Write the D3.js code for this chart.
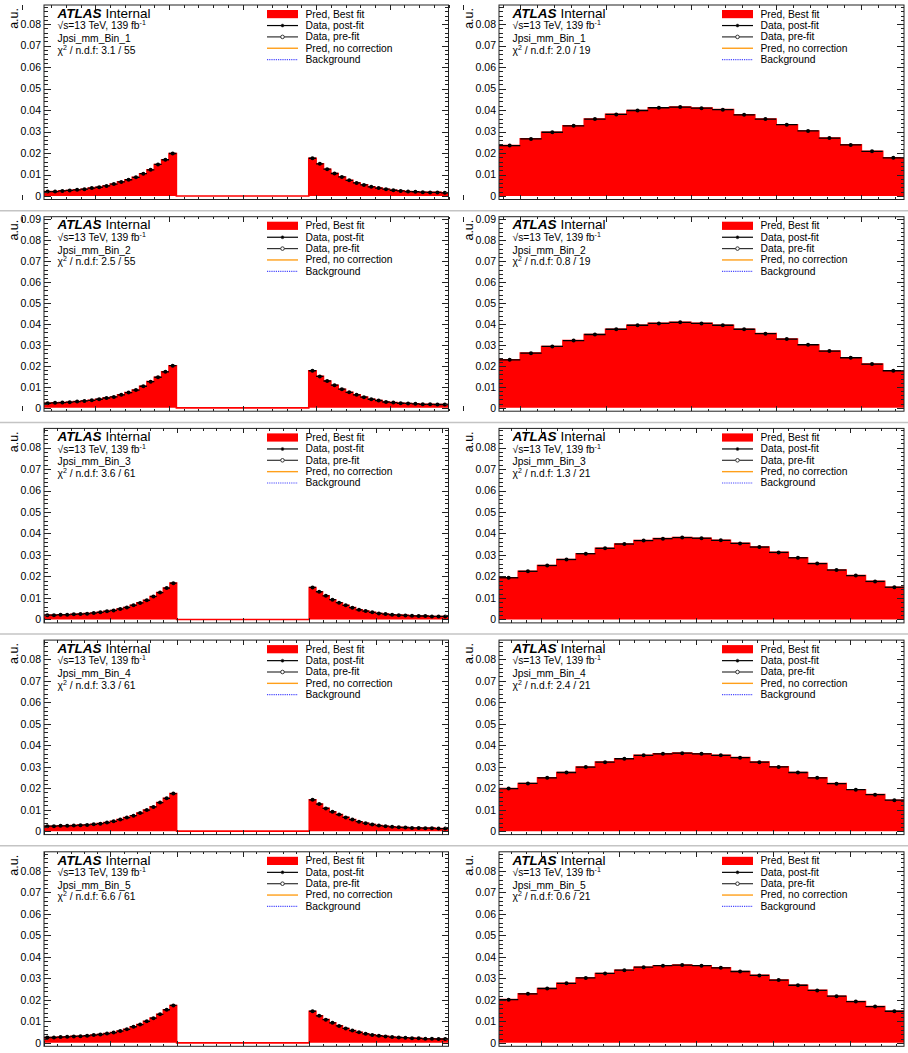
<!DOCTYPE html>
<html>
<head>
<meta charset="utf-8">
<script src="https://cdn.jsdelivr.net/npm/d3@7"></script>
<style>
  html, body { margin: 0; padding: 0; background: #fff; }
  svg text { font-family: "Liberation Sans", Arial, Helvetica, sans-serif; fill: #000; }
</style>
</head>
<body>
<svg id="canvas" width="908" height="1053"></svg>
<script>
// ---- per-row labels ----
const regionNames = ["Jpsi_mm_Bin_1", "Jpsi_mm_Bin_2", "Jpsi_mm_Bin_3", "Jpsi_mm_Bin_4", "Jpsi_mm_Bin_5"];
const chi2Mass  = ["3.1 / 55", "2.5 / 55", "3.6 / 61", "3.3 / 61", "6.6 / 61"];
const chi2Angle = ["2.0 / 19", "0.8 / 19", "1.3 / 21", "2.4 / 21", "0.6 / 21"];
const legendLabels = ["Pred, Best fit", "Data, post-fit", "Data, pre-fit", "Pred, no correction", "Background"];

// ---- y axis ----
const yLow = -0.0016;
const yHigh = [0.0889, 0.0912, 0.0889, 0.0889, 0.0889];
const yMajorTicks = [0, 0.01, 0.02, 0.03, 0.04, 0.05, 0.06, 0.07, 0.08, 0.09];

// ---- x axes (no labels drawn) ----
const massRange  = [[2.66, 3.76], [2.66, 3.76], [2.60, 3.82], [2.60, 3.82], [2.60, 3.82]];
const massMajorTicks = [2.6, 2.8, 3.0, 3.2, 3.4, 3.6, 3.8];
const angleRange = [[-0.25, 4.5], [-0.25, 4.5], [-0.55, 4.7], [-0.55, 4.7], [-0.55, 4.7]];
const angleMajorTicks = [0, 1, 2, 3, 4];

// ---- mass distributions: lower sideband, blinded window, upper sideband ----
const lowSideband = [
  [0.0021, 0.0021, 0.0024, 0.0026, 0.0029, 0.0032, 0.0037, 0.0041, 0.0047, 0.0056, 0.0066, 0.0076, 0.0087, 0.0104, 0.0122, 0.0147, 0.0169, 0.0198],
  [0.0022, 0.0024, 0.0025, 0.0027, 0.0030, 0.0033, 0.0036, 0.0041, 0.0047, 0.0052, 0.0062, 0.0073, 0.0085, 0.0103, 0.0125, 0.0146, 0.0172, 0.0201],
  [0.0020, 0.0020, 0.0022, 0.0022, 0.0024, 0.0025, 0.0027, 0.0030, 0.0033, 0.0038, 0.0042, 0.0049, 0.0056, 0.0066, 0.0077, 0.0089, 0.0107, 0.0125, 0.0146, 0.0169],
  [0.0023, 0.0023, 0.0025, 0.0025, 0.0026, 0.0028, 0.0029, 0.0032, 0.0035, 0.0040, 0.0046, 0.0054, 0.0063, 0.0072, 0.0084, 0.0098, 0.0113, 0.0133, 0.0153, 0.0175],
  [0.0025, 0.0025, 0.0027, 0.0028, 0.0030, 0.0031, 0.0033, 0.0036, 0.0039, 0.0043, 0.0048, 0.0055, 0.0063, 0.0075, 0.0085, 0.0100, 0.0115, 0.0133, 0.0154, 0.0174]
];
const signalWindowBins = [18, 18, 20, 20, 20];
const highSideband = [
  [0.0176, 0.0150, 0.0125, 0.0105, 0.0089, 0.0073, 0.0061, 0.0052, 0.0043, 0.0037, 0.0032, 0.0027, 0.0024, 0.0021, 0.0020, 0.0018, 0.0017, 0.0017, 0.0015],
  [0.0177, 0.0150, 0.0128, 0.0108, 0.0089, 0.0074, 0.0062, 0.0051, 0.0041, 0.0035, 0.0028, 0.0025, 0.0022, 0.0021, 0.0019, 0.0017, 0.0017, 0.0016, 0.0016],
  [0.0149, 0.0129, 0.0110, 0.0092, 0.0078, 0.0066, 0.0055, 0.0045, 0.0039, 0.0033, 0.0028, 0.0025, 0.0022, 0.0020, 0.0019, 0.0017, 0.0016, 0.0016, 0.0014, 0.0014, 0.0014],
  [0.0146, 0.0126, 0.0106, 0.0090, 0.0077, 0.0064, 0.0054, 0.0044, 0.0037, 0.0031, 0.0026, 0.0023, 0.0020, 0.0018, 0.0017, 0.0015, 0.0015, 0.0014, 0.0014, 0.0012, 0.0012],
  [0.0147, 0.0126, 0.0108, 0.0093, 0.0079, 0.0067, 0.0057, 0.0049, 0.0042, 0.0037, 0.0033, 0.0030, 0.0027, 0.0025, 0.0024, 0.0022, 0.0021, 0.0019, 0.0019, 0.0018, 0.0018]
];

// ---- angular distributions ----
const angular = [
  [0.0235, 0.0266, 0.0297, 0.0327, 0.0358, 0.0380, 0.0398, 0.0411, 0.0414, 0.0409, 0.0402, 0.0378, 0.0358, 0.0332, 0.0303, 0.0270, 0.0238, 0.0208, 0.0178],
  [0.0229, 0.0261, 0.0293, 0.0321, 0.0350, 0.0375, 0.0394, 0.0403, 0.0408, 0.0403, 0.0394, 0.0375, 0.0354, 0.0328, 0.0301, 0.0271, 0.0239, 0.0209, 0.0177],
  [0.0194, 0.0224, 0.0251, 0.0279, 0.0306, 0.0331, 0.0351, 0.0367, 0.0376, 0.0381, 0.0378, 0.0368, 0.0354, 0.0337, 0.0312, 0.0287, 0.0260, 0.0230, 0.0204, 0.0177, 0.0150],
  [0.0198, 0.0222, 0.0248, 0.0273, 0.0298, 0.0321, 0.0337, 0.0353, 0.0360, 0.0363, 0.0360, 0.0353, 0.0342, 0.0321, 0.0299, 0.0273, 0.0248, 0.0221, 0.0193, 0.0170, 0.0144],
  [0.0201, 0.0228, 0.0253, 0.0277, 0.0302, 0.0323, 0.0338, 0.0352, 0.0359, 0.0362, 0.0359, 0.0349, 0.0332, 0.0314, 0.0292, 0.0268, 0.0244, 0.0217, 0.0192, 0.0169, 0.0147]
];

// ---- layout ----
const W = 908, H = 1053;
const rowPitch = 211.7;
const frameTopOff = 5, frameBotOff = 199.5;
const cols = [{ x0: 44, x1: 448.5 }, { x0: 499, x1: 904 }];
const AXIS_COLOR = "#222";
const RED = "#ff0000";

const svg = d3.select("#canvas");
svg.append("rect").attr("width", W).attr("height", H).attr("fill", "#fff");

const fmtY = d => d === 0 ? "0" : d3.format(".2f")(d);

function minorTicks(domain, step, majors) {
  const lo = Math.ceil(domain[0] / step - 1e-9), hi = Math.floor(domain[1] / step + 1e-9);
  return d3.range(lo, hi + 1).map(k => +(k * step).toFixed(6))
    .filter(v => !majors.some(m => Math.abs(m - v) < 1e-6));
}

function styleAxis(sel) {
  sel.select(".domain").remove();
  sel.selectAll(".tick line").attr("stroke", AXIS_COLOR).attr("stroke-width", 1).attr("shape-rendering", "crispEdges");
}

let clipId = 0;
function drawPanel(row, col, xDomain, xMajors, xMinorStep, bins, showPoints, chi2) {
  const rowTop = row * rowPitch;
  const ft = rowTop + frameTopOff, fb = rowTop + frameBotOff;
  const { x0, x1 } = cols[col];
  const x = d3.scaleLinear().domain(xDomain).range([x0, x1]);
  const y = d3.scaleLinear().domain([yLow, yHigh[row]]).range([fb, ft]);
  const g = svg.append("g");

  const cid = "clip" + (clipId++);
  g.append("clipPath").attr("id", cid).append("rect")
    .attr("x", x0).attr("y", ft).attr("width", x1 - x0).attr("height", fb - ft);
  const plot = g.append("g").attr("clip-path", `url(#${cid})`);

  const n = bins.length;
  const bw = (xDomain[1] - xDomain[0]) / n;
  const edges = d3.range(n + 1).map(i => xDomain[0] + i * bw);
  const pts = bins.map((v, i) => [edges[i], v]).concat([[edges[n], bins[n - 1]]]);

  // predicted histogram (filled)
  plot.append("path")
    .attr("d", d3.area().x(d => x(d[0])).y0(y(0)).y1(d => y(d[1])).curve(d3.curveStepAfter)(pts))
    .attr("fill", RED);
  plot.append("path")
    .attr("d", d3.line().x(d => x(d[0])).y(d => y(d[1])).curve(d3.curveStepAfter)(pts))
    .attr("fill", "none").attr("stroke", RED).attr("stroke-width", 1.6);

  // data points with bin-width bars
  const dp = plot.append("g");
  bins.forEach((v, i) => {
    if (!showPoints[i]) return;
    dp.append("line")
      .attr("x1", x(edges[i])).attr("x2", x(edges[i + 1]))
      .attr("y1", y(v)).attr("y2", y(v))
      .attr("stroke", "#000").attr("stroke-width", 1.3);
    dp.append("circle")
      .attr("cx", x((edges[i] + edges[i + 1]) / 2)).attr("cy", y(v))
      .attr("r", 2).attr("fill", "#000");
  });

  // axes with inward ticks on all four sides
  const yMaj = yMajorTicks.filter(t => t <= yHigh[row] + 1e-9);
  const yMin = minorTicks([yLow, yHigh[row]], 0.002, yMaj).filter(t => t >= 0);
  const xMin = minorTicks(xDomain, xMinorStep, xMajors);

  g.append("g").attr("transform", `translate(${x0},0)`)
    .call(d3.axisLeft(y).tickValues(yMaj).tickSize(-7).tickPadding(3).tickFormat(fmtY))
    .call(styleAxis)
    .call(s => s.selectAll("text").attr("font-size", 10.5).attr("fill", "#000")
      .attr("font-family", '"Liberation Sans", Arial, sans-serif'));
  g.append("g").attr("transform", `translate(${x0},0)`)
    .call(d3.axisLeft(y).tickValues(yMin).tickSize(-3.5).tickFormat("")).call(styleAxis);
  g.append("g").attr("transform", `translate(${x1},0)`)
    .call(d3.axisRight(y).tickValues(yMaj).tickSize(-7).tickFormat("")).call(styleAxis);
  g.append("g").attr("transform", `translate(${x1},0)`)
    .call(d3.axisRight(y).tickValues(yMin).tickSize(-3.5).tickFormat("")).call(styleAxis);

  g.append("g").attr("transform", `translate(0,${fb})`)
    .call(d3.axisBottom(x).tickValues(xMajors).tickSize(-5).tickFormat("")).call(styleAxis);
  g.append("g").attr("transform", `translate(0,${fb})`)
    .call(d3.axisBottom(x).tickValues(xMin).tickSize(-2.5).tickFormat("")).call(styleAxis);
  g.append("g").attr("transform", `translate(0,${ft})`)
    .call(d3.axisTop(x).tickValues(xMajors).tickSize(-5).tickFormat("")).call(styleAxis);
  g.append("g").attr("transform", `translate(0,${ft})`)
    .call(d3.axisTop(x).tickValues(xMin).tickSize(-2.5).tickFormat("")).call(styleAxis);

  g.append("rect").attr("x", x0).attr("y", ft).attr("width", x1 - x0).attr("height", fb - ft)
    .attr("fill", "none").attr("stroke", AXIS_COLOR).attr("stroke-width", 1);

  // y title
  g.append("text")
    .attr("transform", `translate(${x0 - 26},${rowTop + 8}) rotate(-90)`)
    .attr("text-anchor", "end").attr("font-size", 12.5).text("a.u.");

  // ATLAS label block
  const tx = x0 + 13.5;
  const t1 = g.append("text").attr("x", tx).attr("y", rowTop + 17.7).attr("font-size", 13.5);
  t1.append("tspan").attr("font-weight", "bold").attr("font-style", "italic").text("ATLAS");
  t1.append("tspan").attr("dx", 4).text("Internal");

  const t2 = g.append("text").attr("x", tx).attr("y", rowTop + 29.3).attr("font-size", 10.3);
  t2.append("tspan").text("\u221As=13 TeV, 139 fb");
  t2.append("tspan").attr("dy", -4).attr("font-size", 7).text("-1");

  g.append("text").attr("x", tx).attr("y", rowTop + 41.8).attr("font-size", 10.3).text(regionNames[row]);

  const t4 = g.append("text").attr("x", tx).attr("y", rowTop + 53.5).attr("font-size", 10.3);
  t4.append("tspan").text("\u03C7");
  t4.append("tspan").attr("dy", -4).attr("font-size", 7).text("2");
  t4.append("tspan").attr("dy", 4).text(" / n.d.f: " + chi2);

  // legend
  const lx0 = x0 + 223, lx1 = x0 + 254, ltx = x0 + 261.5;
  legendLabels.forEach((lab, i) => {
    const base = rowTop + 17.6 + i * 11.35;
    const cy = base - 3.4;
    if (i === 0) {
      g.append("rect").attr("x", lx0).attr("y", cy - 4.2).attr("width", lx1 - lx0).attr("height", 8.2).attr("fill", RED);
    } else if (i === 1 || i === 2) {
      g.append("line").attr("x1", lx0).attr("x2", lx1).attr("y1", cy).attr("y2", cy)
        .attr("stroke", i === 1 ? "#000" : "#333").attr("stroke-width", 1.2);
      g.append("circle").attr("cx", (lx0 + lx1) / 2).attr("cy", cy)
        .attr("r", i === 1 ? 1.5 : 1.8)
        .attr("fill", i === 1 ? "#000" : "#fff").attr("stroke", "#333").attr("stroke-width", i === 1 ? 0.5 : 1);
    } else if (i === 3) {
      g.append("line").attr("x1", lx0).attr("x2", lx1).attr("y1", cy).attr("y2", cy)
        .attr("stroke", "#ff9f1a").attr("stroke-width", 1.4);
    } else {
      g.append("line").attr("x1", lx0).attr("x2", lx1).attr("y1", cy).attr("y2", cy)
        .attr("stroke", "#4a4aff").attr("stroke-width", 1.2).attr("stroke-dasharray", "1.2,1");
    }
    g.append("text").attr("x", ltx).attr("y", base).attr("font-size", 10.3).text(lab);
  });
}

for (let r = 0; r < 5; r++) {
  // mass panel: sidebands with the signal window left empty
  const window = d3.range(signalWindowBins[r]).map(() => 0);
  const massBins = lowSideband[r].concat(window, highSideband[r]);
  const massShow = lowSideband[r].map(() => true).concat(window.map(() => false), highSideband[r].map(() => true));
  drawPanel(r, 0, massRange[r], massMajorTicks, 0.04, massBins, massShow, chi2Mass[r]);

  // angular panel
  drawPanel(r, 1, angleRange[r], angleMajorTicks, 0.2, angular[r], angular[r].map(() => true), chi2Angle[r]);
}

// separators between rows
for (let r = 1; r < 5; r++) {
  svg.append("line").attr("x1", 0).attr("x2", W)
    .attr("y1", r * rowPitch - 1).attr("y2", r * rowPitch - 1)
    .attr("stroke", "#c4c4c4").attr("stroke-width", 1.5);
}
</script>
</body>
</html>
